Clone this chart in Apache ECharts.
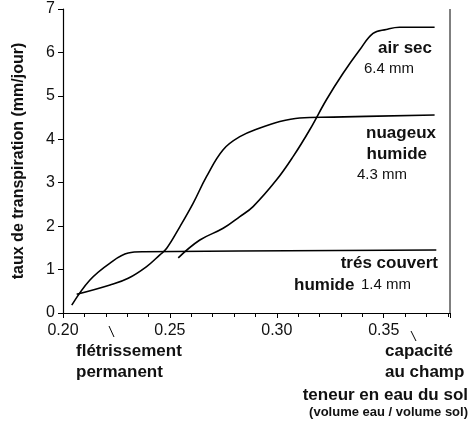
<!DOCTYPE html><html><head><meta charset="utf-8"><script src="https://cdn.jsdelivr.net/npm/echarts@6/dist/echarts.min.js"></script></head><body style="margin:0;background:#fff"><div id="c" style="width:474px;height:432px"></div><script>
const airSec=[[0.2539,1.27],[0.2640,1.68],[0.2749,1.95],[0.2827,2.22],[0.2889,2.45],[0.2998,3.06],[0.3076,3.60],[0.3154,4.22],[0.3232,4.91],[0.3310,5.52],[0.3388,6.06],[0.3450,6.44],[0.3512,6.53],[0.3574,6.58],[0.3738,6.58]];
const nuageux=[[0.2064,0.43],[0.2220,0.645],[0.2305,0.80],[0.2391,1.07],[0.2453,1.34],[0.2485,1.49],[0.2547,1.99],[0.2609,2.53],[0.2671,3.14],[0.2749,3.76],[0.2827,4.06],[0.2921,4.26],[0.3014,4.41],[0.3107,4.49],[0.3263,4.51],[0.3738,4.56]];
const tresCouvert=[[0.2041,0.18],[0.2126,0.76],[0.2220,1.15],[0.2305,1.38],[0.2375,1.41],[0.3746,1.45]];
const F='"Liberation Sans", Arial, sans-serif';
const ch=echarts.init(document.getElementById('c'));
const ln=d=>({type:'line',data:d,smooth:0.4,symbol:'none',lineStyle:{color:'#000',width:1.6}});
const t=(x,y,s,o={})=>({type:'text',left:o.right==null?x:undefined,right:o.right,top:y,style:{text:s,font:(o.n?'':'bold ')+(o.fs||17)+'px '+F,fill:'#111'}});
ch.setOption({animation:false,
grid:{left:63,right:24,top:9,bottom:119},
xAxis:{type:'value',min:0.2,max:0.381,interval:0.05,
 axisLine:{lineStyle:{color:'#000',width:1.2}},axisTick:{length:5,lineStyle:{color:'#000'}},
 minorTick:{show:true,splitNumber:5,length:4,lineStyle:{color:'#000'}},
 axisLabel:{color:'#111',fontSize:16,fontFamily:F,formatter:v=>v.toFixed(2),margin:10,showMaxLabel:false},splitLine:{show:false}},
yAxis:{type:'value',min:0,max:7,interval:1,
 axisLine:{show:true,lineStyle:{color:'#000',width:1.2}},axisTick:{show:true,length:5,lineStyle:{color:'#000'}},
 axisLabel:{color:'#111',fontSize:16,fontFamily:F},splitLine:{show:false},
 name:'taux de transpiration (mm/jour)',nameLocation:'middle',nameGap:36,nameTextStyle:{fontSize:16,fontWeight:'bold',color:'#111',fontFamily:F}},
series:[ln(airSec),ln(nuageux),ln(tresCouvert)],
graphic:[
 {type:'line',shape:{x1:450,y1:9,x2:450,y2:313},style:{stroke:'#000',lineWidth:1}},
 t(0,40,'air sec',{right:42}),t(364,61,'6.4 mm',{n:1,fs:15}),
 t(0,125,'nuageux',{right:38}),t(0,146,'humide',{right:47}),t(357,167,'4.3 mm',{n:1,fs:15}),
 t(0,255,'trés couvert',{right:36}),t(294,277,'humide'),t(361,277,'1.4 mm',{n:1,fs:15}),
 t(76,343,'flétrissement'),t(76,364,'permanent'),
 t(385,343,'capacité'),t(385,364,'au champ'),
 t(0,387,'teneur en eau du sol',{right:6}),t(0,406,'(volume eau / volume sol)',{right:6,fs:13}),
 {type:'line',shape:{x1:109,y1:326,x2:114,y2:337},style:{stroke:'#000',lineWidth:1}},
 {type:'line',shape:{x1:411,y1:331,x2:416,y2:341},style:{stroke:'#000',lineWidth:1}}
]});
</script></body></html>
